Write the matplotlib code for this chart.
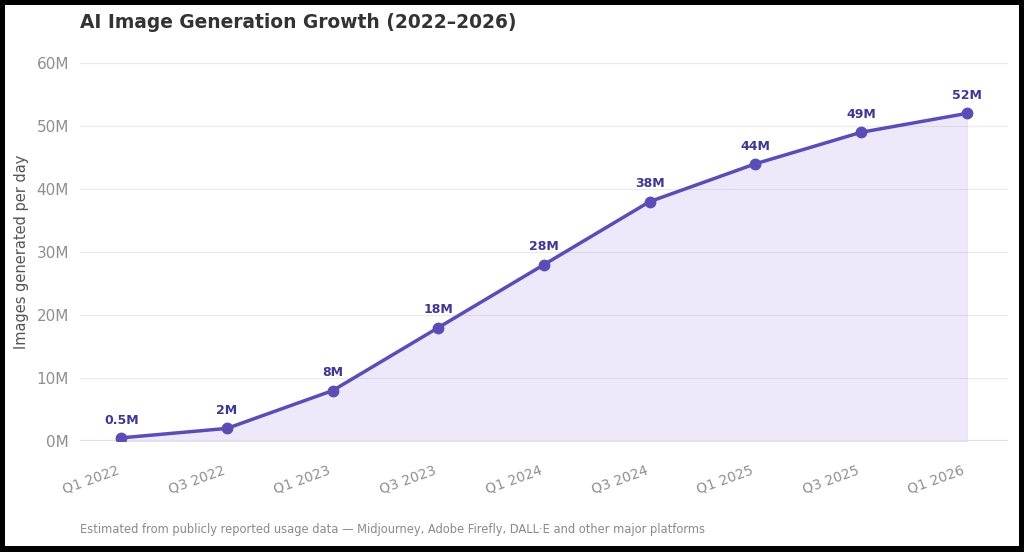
import matplotlib.pyplot as plt
from matplotlib.patches import Rectangle
from matplotlib.ticker import FuncFormatter
from matplotlib.transforms import ScaledTranslation

# Data
quarters = ["Q1 2022", "Q3 2022", "Q1 2023", "Q3 2023", "Q1 2024",
            "Q3 2024", "Q1 2025", "Q3 2025", "Q1 2026"]
images_m = [0.5, 2, 8, 18, 28, 38, 44, 49, 52]
labels = ["0.5M", "2M", "8M", "18M", "28M", "38M", "44M", "49M", "52M"]

line_color = "#5b4db5"
fill_color = "#8a6fe0"
label_color = "#3f3893"

W, H = 1024, 552
fig = plt.figure(figsize=(W / 100, H / 100), dpi=100, facecolor="black")
# white card inside black frame
fig.patches.append(Rectangle((5 / W, 6 / H), (1019 - 5) / W, (547 - 6) / H,
                             transform=fig.transFigure, facecolor="white",
                             edgecolor="none", zorder=-10))

ax = fig.add_axes([80 / W, 1 - 441 / H, (1008 - 80) / W, (441 - 63) / H])
ax.set_facecolor("none")

x = list(range(len(quarters)))
ax.fill_between(x, images_m, 0, color=fill_color, alpha=0.15, linewidth=0.8)
ax.plot(x, images_m, color=line_color, linewidth=2.5, marker="o",
        markersize=7.5, zorder=3)

for xi, yi, lab in zip(x, images_m, labels):
    ax.annotate(lab, (xi, yi), xytext=(0, 8), textcoords="offset points",
                ha="center", va="bottom", fontsize=9, fontweight="bold",
                color=label_color)

ax.set_xlim(-0.39, 8.39)
ax.set_ylim(0, 60)
ax.set_yticks(range(0, 61, 10))
ax.yaxis.set_major_formatter(FuncFormatter(lambda v, p: f"{int(v)}M"))
ax.set_xticks(x)
ax.set_xticklabels(quarters, rotation=20, ha="right", rotation_mode="anchor")

ax.grid(axis="y", color="#ebebeb", linewidth=0.9)
ax.set_axisbelow(True)
for s in ax.spines.values():
    s.set_visible(False)
ax.axhline(0, color="#e3e0ee", linewidth=1.5, zorder=1)
ax.tick_params(axis="both", length=0, labelsize=11, colors="#8f8f8f")
ax.tick_params(axis="x", pad=16, labelsize=10)
ax.tick_params(axis="y", pad=8)

# nudge rotated x labels a bit to the left
shift = ScaledTranslation(-5 / 100, 0, fig.dpi_scale_trans)
for t in ax.get_xticklabels():
    t.set_transform(t.get_transform() + shift)

ax.set_ylabel("Images generated per day", fontsize=10.5, color="#555555",
              labelpad=5)

fig.text(80 / W, 1 - 23 / H, "AI Image Generation Growth (2022–2026)",
         fontsize=13.4, fontweight="bold", color="#333333", va="center")
fig.text(80 / W, 1 - 530 / H,
         "Estimated from publicly reported usage data — Midjourney, Adobe Firefly, DALL·E and other major platforms",
         fontsize=8.3, color="#8a8a8a", va="center")

fig.savefig("out.png", dpi=100, facecolor=fig.get_facecolor())
